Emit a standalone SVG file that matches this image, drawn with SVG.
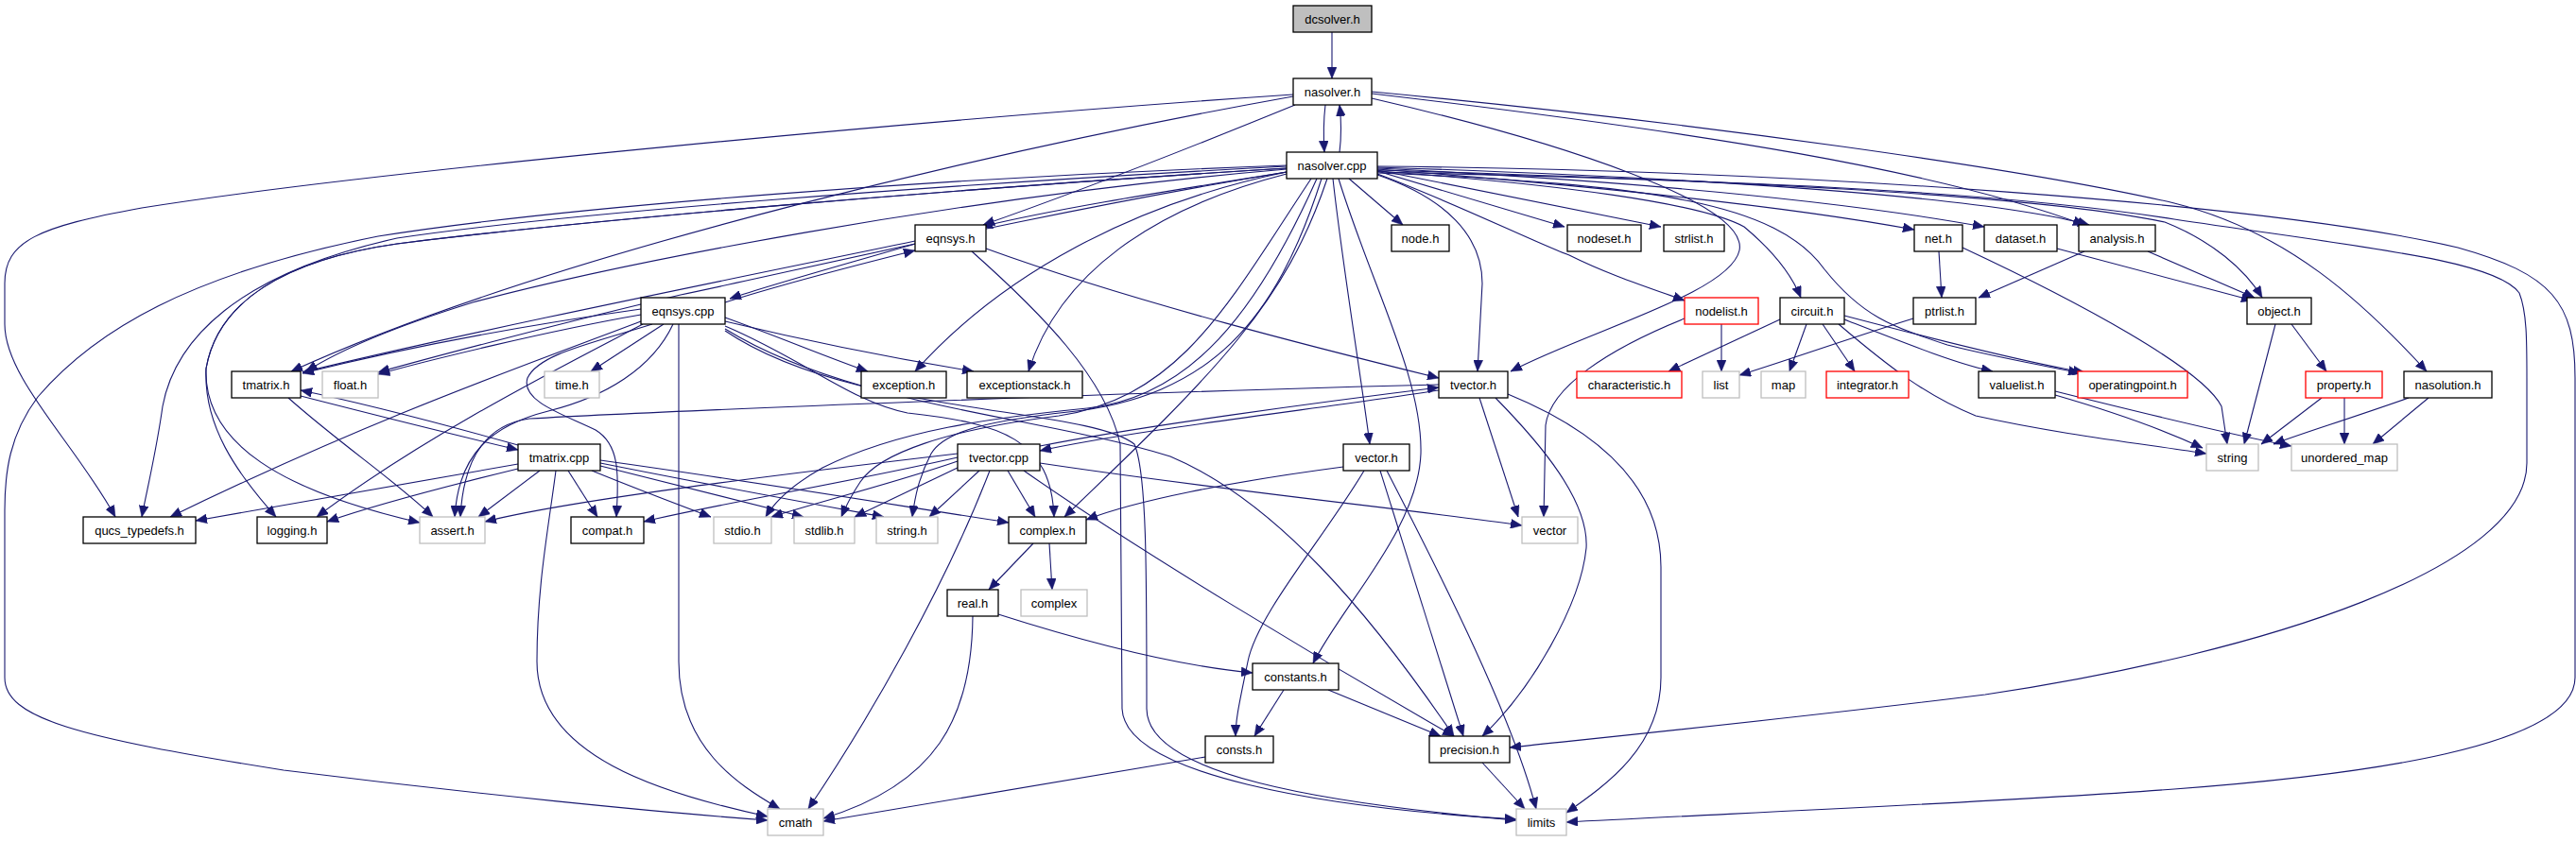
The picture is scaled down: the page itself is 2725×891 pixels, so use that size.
<svg xmlns="http://www.w3.org/2000/svg" width="2725" height="891" viewBox="0 0 2725 891">
<style>
.e{fill:none;stroke:#191970;stroke-width:1.1;marker-end:url(#ah)}
rect{fill:#fff;stroke:#000;stroke-width:1.3}
.gr rect{stroke:#bfbfbf}
.rd rect{stroke:#ff0000}
.root rect{fill:#bfbfbf}
text{font-family:"Liberation Sans",Arial,sans-serif;font-size:13px;text-anchor:middle;fill:#000}
</style>
<defs>
<marker id="ah" markerUnits="userSpaceOnUse" viewBox="0 0 12 10" markerWidth="12" markerHeight="10" refX="12" refY="5" orient="auto">
<path d="M0,0 L12,5 L0,10 z" fill="#191970" stroke="#191970" stroke-width="0.5"/>
</marker>
</defs>
<rect x="0" y="0" width="2725" height="891" style="fill:#fff;stroke:none"/>
<g id="edges">
<path class="e" d="M1409,34 L1409,83"/>
<path class="e" d="M1402,111 C1400,128 1400,145 1401,161"/>
<path class="e" d="M1417,161 C1419,145 1419,128 1417,111"/>
<path class="e" d="M1370,111 C1250,160 1120,210 1040,238"/>
<path class="e" d="M1368,102 C1100,150 600,260 308,393"/>
<path class="e" d="M1368,100 C1000,125 400,180 150,220 C40,240 5,255 5,300 L5,343 C5,400 80,470 122,547"/>
<path class="e" d="M1451,104 C1650,150 1850,215 1840,265 C1830,310 1680,350 1598,393"/>
<path class="e" d="M1451,99 C1800,140 2050,180 2205,238"/>
<path class="e" d="M1451,97 C1800,130 2150,180 2300,215 C2420,245 2500,320 2567,393"/>
<path class="e" d="M1361,182 C1250,200 1120,220 1038,240"/>
<path class="e" d="M1427,189 L1484,238"/>
<path class="e" d="M1457,181 L1655,240"/>
<path class="e" d="M1457,180 L1757,240"/>
<path class="e" d="M1457,179 C1700,198 1900,220 2025,243"/>
<path class="e" d="M1457,178 C1750,193 1950,213 2099,240"/>
<path class="e" d="M1457,177 C1800,188 2100,208 2210,238"/>
<path class="e" d="M1457,180 C1800,190 2150,205 2290,235 C2340,255 2375,285 2393,315"/>
<path class="e" d="M1457,184 C1540,215 1620,255 1660,270 C1700,290 1740,303 1782,318"/>
<path class="e" d="M1457,181 C1650,195 1800,215 1845,240 C1875,265 1895,290 1905,315"/>
<path class="e" d="M1457,183 C1750,195 1880,215 1930,285 C1970,335 2000,345 2060,365 C2120,380 2170,388 2200,395"/>
<path class="e" d="M1457,185 C1530,210 1568,250 1568,300 L1563,393"/>
<path class="e" d="M1410,189 C1420,280 1440,400 1449,470"/>
<path class="e" d="M1416,189 C1450,300 1505,400 1503,480 C1500,560 1420,640 1389,702"/>
<path class="e" d="M1361,182 C1200,215 1060,290 968,393"/>
<path class="e" d="M1361,184 C1220,220 1120,290 1088,393"/>
<path class="e" d="M1361,179 C1000,210 650,280 500,320 C420,345 360,370 324,393"/>
<path class="e" d="M1361,182 C1100,225 850,285 720,312 C600,340 450,380 400,394"/>
<path class="e" d="M1361,176 C1000,195 600,225 420,252 C250,290 185,360 172,430 C165,480 155,520 150,547"/>
<path class="e" d="M1361,175 C1000,188 600,218 400,250 C200,290 100,350 40,420 C10,460 5,500 5,540 L5,717 C5,760 80,780 300,815 C500,840 700,860 812,868"/>
<path class="e" d="M1361,178 C1000,200 600,235 420,258 C300,275 230,320 218,390 C215,450 250,500 292,547"/>
<path class="e" d="M1361,178 C1000,200 600,235 420,258 C300,275 230,320 218,390 C215,470 300,520 444,553"/>
<path class="e" d="M1393,189 C1330,330 1260,420 1150,432 C1050,442 950,455 870,495 C840,512 820,530 810,547"/>
<path class="e" d="M1387,189 C1300,320 1250,420 1120,440 C1000,455 930,480 910,510 C900,525 895,535 890,547"/>
<path class="e" d="M1398,189 C1350,340 1280,420 1130,436 C1050,445 1000,455 985,480 C972,505 968,525 965,547"/>
<path class="e" d="M1404,189 C1360,320 1290,390 1126,547"/>
<path class="e" d="M1457,176 C1900,180 2400,215 2600,262 C2700,290 2724,320 2724,400 L2724,717 C2724,790 2500,820 2300,835 C2100,850 1800,862 1657,870"/>
<path class="e" d="M1457,182 C1800,190 2100,200 2300,232 C2500,262 2640,275 2665,310 C2673,330 2673,360 2673,400 L2673,490 C2673,600 2400,690 2100,735 C1900,760 1700,780 1597,791"/>
<path class="e" d="M968,258 C900,278 820,300 772,316"/>
<path class="e" d="M968,255 C800,290 500,350 320,394"/>
<path class="e" d="M1043,263 C1200,320 1400,370 1522,400"/>
<path class="e" d="M1028,266 C1100,330 1170,400 1185,470 L1187,750 C1190,820 1400,855 1604,867"/>
<path class="e" d="M767,320 C830,300 900,282 968,265"/>
<path class="e" d="M678,327 C550,345 420,370 320,395"/>
<path class="e" d="M678,333 C580,350 450,382 400,396"/>
<path class="e" d="M702,343 L625,393"/>
<path class="e" d="M767,336 C820,355 880,380 918,393"/>
<path class="e" d="M767,340 C850,360 950,380 1030,393"/>
<path class="e" d="M678,340 C560,385 400,440 180,547"/>
<path class="e" d="M680,343 C600,385 450,460 335,547"/>
<path class="e" d="M690,343 C620,365 570,375 558,400 C550,425 600,440 630,455 C655,470 655,500 652,547"/>
<path class="e" d="M712,343 C690,390 640,420 580,435 C520,450 485,480 481,547"/>
<path class="e" d="M718,343 L718,700 C718,790 780,830 825,856"/>
<path class="e" d="M767,345 C850,380 900,425 960,437 C1060,448 1112,465 1115,547"/>
<path class="e" d="M767,348 C900,430 1100,440 1238,483 C1350,530 1450,650 1538,779"/>
<path class="e" d="M767,350 C900,440 1150,430 1200,470 C1213,500 1213,600 1213,750 C1213,820 1400,850 1604,868"/>
<path class="e" d="M318,419 C400,440 480,460 548,476"/>
<path class="e" d="M305,421 C360,470 420,510 458,547"/>
<path class="e" d="M548,471 C480,452 400,430 318,413"/>
<path class="e" d="M548,491 L207,551"/>
<path class="e" d="M548,496 C450,520 380,540 346,552"/>
<path class="e" d="M571,498 L506,547"/>
<path class="e" d="M601,498 L632,547"/>
<path class="e" d="M588,498 C580,560 568,620 568,700 C568,800 700,840 812,864"/>
<path class="e" d="M626,498 C680,520 720,535 752,547"/>
<path class="e" d="M635,493 C720,515 800,535 850,547"/>
<path class="e" d="M635,490 C760,515 870,535 935,547"/>
<path class="e" d="M635,487 C800,510 950,535 1067,553"/>
<path class="e" d="M1522,413 C1400,432 1200,455 1100,477"/>
<path class="e" d="M1522,407 C1200,415 700,435 560,443 C510,450 490,490 487,547"/>
<path class="e" d="M1565,421 L1606,547"/>
<path class="e" d="M1582,421 C1630,470 1681,530 1678,580 C1672,640 1620,730 1568,779"/>
<path class="e" d="M1595,417 C1700,460 1757,520 1757,600 L1757,717 C1757,790 1700,830 1657,860"/>
<path class="e" d="M1100,472 C1200,452 1400,425 1522,410"/>
<path class="e" d="M1013,480 C800,505 600,530 513,552"/>
<path class="e" d="M1013,484 C900,510 750,535 681,552"/>
<path class="e" d="M1013,488 C950,510 870,530 816,547"/>
<path class="e" d="M1015,494 L904,547"/>
<path class="e" d="M1036,498 L983,547"/>
<path class="e" d="M1066,498 L1095,547"/>
<path class="e" d="M1047,498 C1000,620 920,760 855,856"/>
<path class="e" d="M1083,498 C1200,580 1400,700 1538,779"/>
<path class="e" d="M1100,490 C1300,520 1500,540 1610,556"/>
<path class="e" d="M1421,494 C1300,510 1200,530 1149,550"/>
<path class="e" d="M1443,498 C1400,570 1330,650 1320,700 C1312,740 1307,760 1307,779"/>
<path class="e" d="M1460,498 L1548,779"/>
<path class="e" d="M1467,498 C1530,620 1600,760 1625,856"/>
<path class="e" d="M1358,730 L1327,779"/>
<path class="e" d="M1405,730 L1524,779"/>
<path class="e" d="M1056,650 C1150,680 1250,705 1325,712"/>
<path class="e" d="M1029,652 C1028,760 990,830 871,866"/>
<path class="e" d="M1275,801 C1100,830 950,855 871,869"/>
<path class="e" d="M1093,575 L1046,624"/>
<path class="e" d="M1110,575 L1113,624"/>
<path class="e" d="M1568,807 L1613,856"/>
<path class="e" d="M1883,338 L1765,393"/>
<path class="e" d="M1911,343 L1893,393"/>
<path class="e" d="M1928,343 L1962,393"/>
<path class="e" d="M1951,338 C2020,365 2070,385 2108,393"/>
<path class="e" d="M1951,334 C2050,360 2150,385 2205,394"/>
<path class="e" d="M1945,343 C2000,390 2040,420 2090,440 C2180,460 2270,470 2334,480"/>
<path class="e" d="M1821,343 L1821,393"/>
<path class="e" d="M1782,337 C1700,370 1640,410 1635,450 L1633,547"/>
<path class="e" d="M2024,337 C1950,360 1880,385 1840,397"/>
<path class="e" d="M2051,266 L2054,315"/>
<path class="e" d="M2076,262 C2200,320 2330,390 2350,430 L2356,470"/>
<path class="e" d="M2176,263 L2383,318"/>
<path class="e" d="M2205,266 L2093,315"/>
<path class="e" d="M2272,266 L2385,315"/>
<path class="e" d="M2424,343 L2461,393"/>
<path class="e" d="M2407,343 L2374,470"/>
<path class="e" d="M2456,421 L2392,470"/>
<path class="e" d="M2480,421 L2480,470"/>
<path class="e" d="M2548,421 C2480,445 2430,460 2405,470"/>
<path class="e" d="M2569,421 L2510,470"/>
<path class="e" d="M2174,418 C2250,440 2300,460 2330,474"/>
<path class="e" d="M2174,414 C2270,438 2370,462 2424,472"/>
</g>
<g id="n-dcsolver" class="root"><rect x="1368" y="6" width="83" height="28"/><text x="1409.5" y="24.5">dcsolver.h</text></g>
<g id="n-nasolver-h"><rect x="1368" y="83" width="83" height="28"/><text x="1409.5" y="101.5">nasolver.h</text></g>
<g id="n-nasolver-cpp"><rect x="1361" y="161" width="96" height="28"/><text x="1409" y="179.5">nasolver.cpp</text></g>
<g id="n-eqnsys-h"><rect x="968" y="238" width="75" height="28"/><text x="1005.5" y="256.5">eqnsys.h</text></g>
<g id="n-node-h"><rect x="1472" y="238" width="61" height="28"/><text x="1502.5" y="256.5">node.h</text></g>
<g id="n-nodeset-h"><rect x="1658" y="238" width="78" height="28"/><text x="1697" y="256.5">nodeset.h</text></g>
<g id="n-strlist-h"><rect x="1760" y="238" width="64" height="28"/><text x="1792" y="256.5">strlist.h</text></g>
<g id="n-net-h"><rect x="2025" y="238" width="51" height="28"/><text x="2050.5" y="256.5">net.h</text></g>
<g id="n-dataset-h"><rect x="2099" y="238" width="77" height="28"/><text x="2137.5" y="256.5">dataset.h</text></g>
<g id="n-analysis-h"><rect x="2199" y="238" width="81" height="28"/><text x="2239.5" y="256.5">analysis.h</text></g>
<g id="n-eqnsys-cpp"><rect x="678" y="315" width="89" height="28"/><text x="722.5" y="333.5">eqnsys.cpp</text></g>
<g id="n-nodelist-h" class="rd"><rect x="1782" y="315" width="78" height="28"/><text x="1821" y="333.5">nodelist.h</text></g>
<g id="n-circuit-h"><rect x="1883" y="315" width="68" height="28"/><text x="1917" y="333.5">circuit.h</text></g>
<g id="n-ptrlist-h"><rect x="2024" y="315" width="66" height="28"/><text x="2057" y="333.5">ptrlist.h</text></g>
<g id="n-object-h"><rect x="2377" y="315" width="68" height="28"/><text x="2411" y="333.5">object.h</text></g>
<g id="n-tmatrix-h"><rect x="245" y="393" width="73" height="28"/><text x="281.5" y="411.5">tmatrix.h</text></g>
<g id="n-float-h" class="gr"><rect x="341" y="393" width="59" height="28"/><text x="370.5" y="411.5">float.h</text></g>
<g id="n-time-h" class="gr"><rect x="576" y="393" width="58" height="28"/><text x="605" y="411.5">time.h</text></g>
<g id="n-exception-h"><rect x="911" y="393" width="90" height="28"/><text x="956" y="411.5">exception.h</text></g>
<g id="n-exceptionstack-h"><rect x="1023" y="393" width="122" height="28"/><text x="1084" y="411.5">exceptionstack.h</text></g>
<g id="n-tvector-h"><rect x="1522" y="393" width="73" height="28"/><text x="1558.5" y="411.5">tvector.h</text></g>
<g id="n-characteristic-h" class="rd"><rect x="1668" y="393" width="111" height="28"/><text x="1723.5" y="411.5">characteristic.h</text></g>
<g id="n-list" class="gr"><rect x="1801" y="393" width="39" height="28"/><text x="1820.5" y="411.5">list</text></g>
<g id="n-map" class="gr"><rect x="1863" y="393" width="47" height="28"/><text x="1886.5" y="411.5">map</text></g>
<g id="n-integrator-h" class="rd"><rect x="1932" y="393" width="87" height="28"/><text x="1975.5" y="411.5">integrator.h</text></g>
<g id="n-valuelist-h"><rect x="2093" y="393" width="81" height="28"/><text x="2133.5" y="411.5">valuelist.h</text></g>
<g id="n-operatingpoint-h" class="rd"><rect x="2198" y="393" width="116" height="28"/><text x="2256" y="411.5">operatingpoint.h</text></g>
<g id="n-property-h" class="rd"><rect x="2439" y="393" width="81" height="28"/><text x="2479.5" y="411.5">property.h</text></g>
<g id="n-nasolution-h"><rect x="2543" y="393" width="93" height="28"/><text x="2589.5" y="411.5">nasolution.h</text></g>
<g id="n-tmatrix-cpp"><rect x="548" y="470" width="87" height="28"/><text x="591.5" y="488.5">tmatrix.cpp</text></g>
<g id="n-tvector-cpp"><rect x="1013" y="470" width="87" height="28"/><text x="1056.5" y="488.5">tvector.cpp</text></g>
<g id="n-vector-h"><rect x="1421" y="470" width="70" height="28"/><text x="1456" y="488.5">vector.h</text></g>
<g id="n-string" class="gr"><rect x="2334" y="470" width="55" height="28"/><text x="2361.5" y="488.5">string</text></g>
<g id="n-unordered-map" class="gr"><rect x="2424" y="470" width="112" height="28"/><text x="2480" y="488.5">unordered_map</text></g>
<g id="n-qucs-typedefs-h"><rect x="88" y="547" width="119" height="28"/><text x="147.5" y="565.5">qucs_typedefs.h</text></g>
<g id="n-logging-h"><rect x="272" y="547" width="74" height="28"/><text x="309" y="565.5">logging.h</text></g>
<g id="n-assert-h" class="gr"><rect x="444" y="547" width="69" height="28"/><text x="478.5" y="565.5">assert.h</text></g>
<g id="n-compat-h"><rect x="604" y="547" width="77" height="28"/><text x="642.5" y="565.5">compat.h</text></g>
<g id="n-stdio-h" class="gr"><rect x="755" y="547" width="61" height="28"/><text x="785.5" y="565.5">stdio.h</text></g>
<g id="n-stdlib-h" class="gr"><rect x="840" y="547" width="64" height="28"/><text x="872" y="565.5">stdlib.h</text></g>
<g id="n-string-h" class="gr"><rect x="927" y="547" width="65" height="28"/><text x="959.5" y="565.5">string.h</text></g>
<g id="n-complex-h"><rect x="1067" y="547" width="82" height="28"/><text x="1108" y="565.5">complex.h</text></g>
<g id="n-vector" class="gr"><rect x="1610" y="547" width="59" height="28"/><text x="1639.5" y="565.5">vector</text></g>
<g id="n-real-h"><rect x="1002" y="624" width="54" height="28"/><text x="1029" y="642.5">real.h</text></g>
<g id="n-complex" class="gr"><rect x="1080" y="624" width="70" height="28"/><text x="1115" y="642.5">complex</text></g>
<g id="n-constants-h"><rect x="1325" y="702" width="91" height="28"/><text x="1370.5" y="720.5">constants.h</text></g>
<g id="n-consts-h"><rect x="1275" y="779" width="72" height="28"/><text x="1311" y="797.5">consts.h</text></g>
<g id="n-precision-h"><rect x="1512" y="779" width="85" height="28"/><text x="1554.5" y="797.5">precision.h</text></g>
<g id="n-cmath" class="gr"><rect x="812" y="856" width="59" height="28"/><text x="841.5" y="874.5">cmath</text></g>
<g id="n-limits" class="gr"><rect x="1604" y="856" width="53" height="28"/><text x="1630.5" y="874.5">limits</text></g>
</svg>
